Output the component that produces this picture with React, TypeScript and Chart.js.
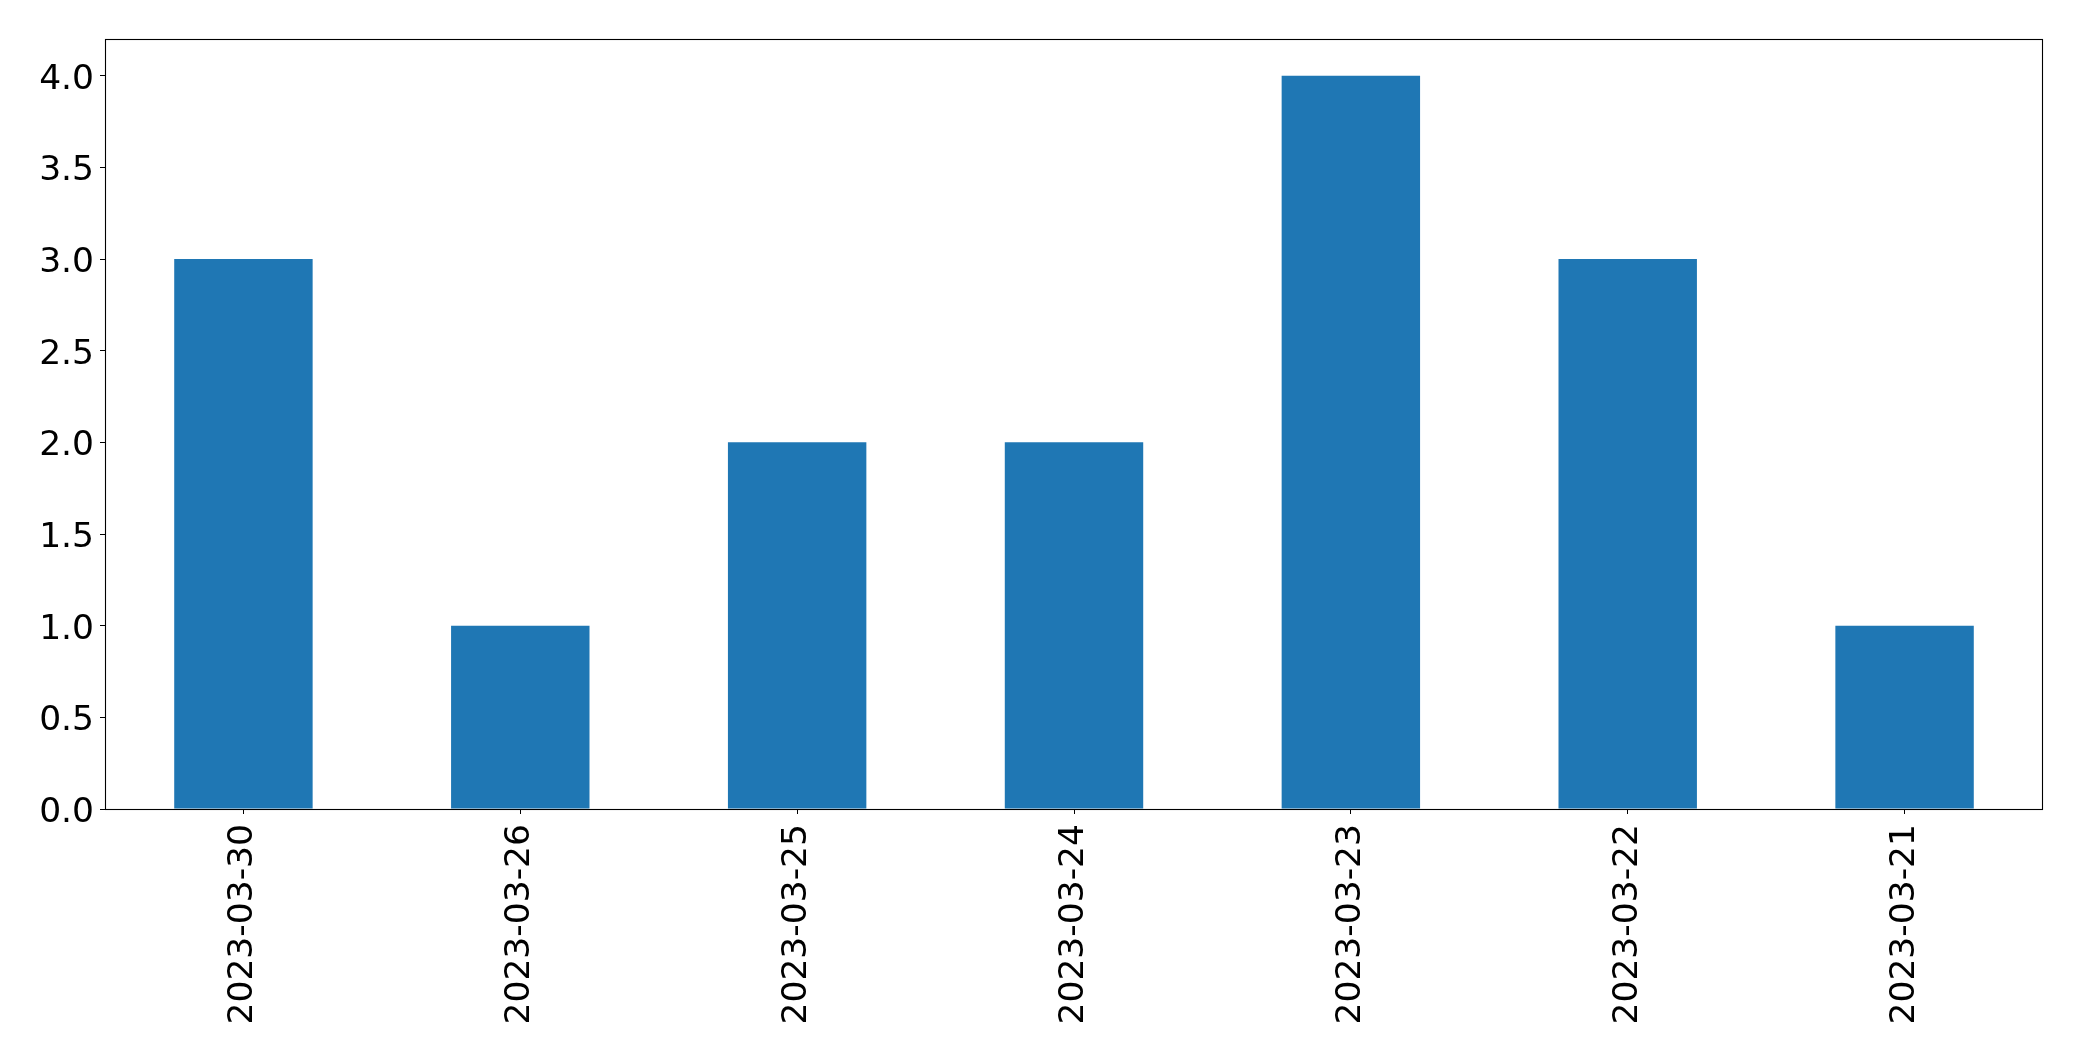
import React, { useEffect, useRef } from "react";
import { Chart, registerables } from "chart.js";

Chart.register(...registerables);

const categories: string[] = [
  "2023-03-30",
  "2023-03-26",
  "2023-03-25",
  "2023-03-24",
  "2023-03-23",
  "2023-03-22",
  "2023-03-21",
];
const counts: number[] = [3, 1, 2, 2, 4, 3, 1];
const yTickStep = 0.5;
const yMax = 4.2;

const W = 2082;
const H = 1061;
const AREA = { left: 105, top: 39, right: 2043, bottom: 809 };

const framePlugin = {
  id: "frame",
  afterDraw(chart: any) {
    const { ctx, chartArea } = chart;
    ctx.save();
    ctx.strokeStyle = "#000";
    ctx.lineWidth = 1.1;
    ctx.strokeRect(
      Math.round(chartArea.left) + 0.5,
      Math.round(chartArea.top) + 0.5,
      Math.round(chartArea.right - chartArea.left) - 1,
      Math.round(chartArea.bottom - chartArea.top)
    );
    ctx.restore();
  },
};

export default function App() {
  const ref = useRef<HTMLCanvasElement>(null);
  useEffect(() => {
    if (!ref.current) return;
    const font = { family: "DejaVu Sans", size: 34.5 };
    const chart = new Chart(ref.current, {
      type: "bar",
      data: {
        labels: categories,
        datasets: [
          {
            data: counts,
            backgroundColor: "#1f77b4",
            borderWidth: 0,
            barPercentage: 0.5,
            categoryPercentage: 1,
          },
        ],
      },
      options: {
        animation: false,
        responsive: false,
        devicePixelRatio: 1,
        layout: {
          padding: { left: 0, top: AREA.top, right: W - AREA.right, bottom: 0 },
        },
        plugins: {
          legend: { display: false },
          tooltip: { enabled: false },
        },
        scales: {
          x: {
            type: "category",
            offset: true,
            grid: {
              display: true,
              offset: false,
              drawOnChartArea: false,
              drawTicks: true,
              tickLength: 5,
              tickColor: "#000",
            },
            border: { display: false },
            ticks: {
              color: "#000",
              font,
              minRotation: 90,
              maxRotation: 90,
              padding: 10,
              autoSkip: false,
            },
            afterFit(scale: any) {
              scale.height = H - AREA.bottom;
            },
          },
          y: {
            type: "linear",
            min: 0,
            max: yMax,
            grid: {
              display: true,
              drawOnChartArea: false,
              drawTicks: true,
              tickLength: 5,
              tickColor: "#000",
            },
            border: { display: false },
            ticks: {
              stepSize: yTickStep,
              includeBounds: false,
              color: "#000",
              font,
              padding: 6,
              labelOffset: 4,
              callback: (v: any) => Number(v).toFixed(1),
            },
            afterFit(scale: any) {
              scale.width = AREA.left;
            },
          },
        },
      },
      plugins: [framePlugin],
    });
    return () => chart.destroy();
  }, []);
  return (
    <div style={{ position: "fixed", left: 0, top: 0, width: W, height: H, background: "#fff" }}>
      <canvas ref={ref} width={W} height={H} style={{ display: "block" }} />
    </div>
  );
}
